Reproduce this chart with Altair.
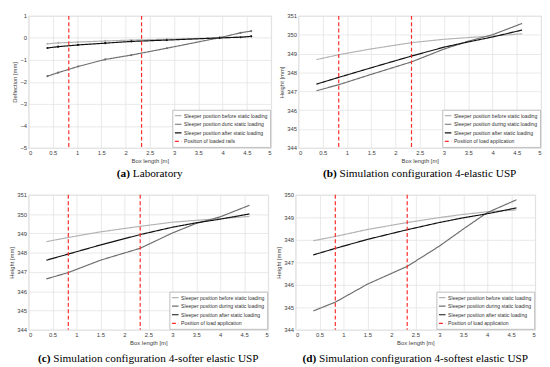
import altair as alt
import pandas as pd

# ---------------- data ----------------
x_lab = [0.39, 0.61, 1.02, 1.58, 2.12, 2.85, 3.94, 4.37, 4.59]
a_before = [-0.27, -0.23, -0.19, -0.14, -0.10, -0.06, 0.00, 0.04, 0.07]
a_during = [-1.74, -1.58, -1.30, -0.98, -0.78, -0.47, 0.01, 0.23, 0.31]
a_after = [-0.46, -0.40, -0.32, -0.24, -0.16, -0.10, 0.00, 0.03, 0.07]

x_sim = [0.37, 0.83, 1.5, 2.33, 3.0, 3.5, 4.0, 4.61]
b_before = [348.68, 348.94, 349.25, 349.58, 349.76, 349.85, 349.93, 350.05]
b_during = [347.03, 347.35, 347.90, 348.56, 349.24, 349.66, 350.00, 350.60]
b_after = [347.38, 347.74, 348.25, 348.87, 349.34, 349.62, 349.88, 350.25]

c_before = [348.57, 348.79, 349.08, 349.37, 349.58, 349.68, 349.77, 349.88]
c_during = [346.64, 346.97, 347.61, 348.23, 349.02, 349.52, 349.86, 350.46]
c_after = [347.61, 347.93, 348.40, 348.94, 349.32, 349.55, 349.74, 350.01]

d_before = [347.96, 348.15, 348.46, 348.77, 348.99, 349.13, 349.25, 349.33]
d_during = [344.84, 345.23, 346.03, 346.82, 347.72, 348.48, 349.21, 349.78]
d_after = [347.33, 347.62, 348.02, 348.45, 348.77, 348.98, 349.16, 349.42]

load_x = [0.83, 2.33]

labels_a = ["Sleeper position before static loading",
            "Sleeper position duric static loading",
            "Sleeper position after static loading",
            "Position of loaded rails"]
labels_sim = ["Sleeper position before static loading",
              "Sleeper position during static loading",
              "Sleeper position after static loading",
              "Position of load application"]

x_ticks = [0.0, 0.5, 1.0, 1.5, 2.0, 2.5, 3.0, 3.5, 4.0, 4.5, 5.0]

captions = [("(a)", "Laboratory"),
            ("(b)", "Simulation configuration 4-elastic USP"),
            ("(c)", "Simulation configuration 4-softer elastic USP"),
            ("(d)", "Simulation configuration 4-softest elastic USP")]

# ---------------- layout helpers ----------------
CAP_SIZE = 11.5
REG = {'S': 556, 'i': 278, 'm': 778, 'u': 500, 'l': 278, 'a': 444, 't': 278,
       'o': 500, 'n': 500, ' ': 250, 'c': 444, 'f': 333, 'g': 500, 'r': 333,
       '4': 500, '-': 333, 'e': 444, 's': 389, 'U': 722, 'P': 556, 'L': 611,
       'b': 500, 'y': 500}
BOLD = {'(': 333, ')': 333, 'a': 500, 'b': 556, 'c': 444, 'd': 556}


def text_w(s, table):
    return sum(table.get(ch, 500) for ch in s) * CAP_SIZE / 1000.0


def panel(x, before, during, after, labels, ydom, ytitle, cap, markers,
          W, H, cap_off):
    rows = []
    for lab, ys in zip(labels[:3], [before, during, after]):
        for xv, yv in zip(x, ys):
            rows.append({"x": xv, "y": yv, "s": lab})
    df = pd.DataFrame(rows)
    dfr = pd.DataFrame({"x": load_x, "s": [labels[3]] * len(load_x)})

    legend = alt.Legend(title=None, orient="bottom-right", offset=1,
                        fillColor="white", strokeColor="#bdbdbd", padding=2,
                        labelFontSize=5.2, labelFont="Liberation Sans",
                        labelColor="#303030", symbolType="stroke",
                        symbolSize=45, rowPadding=0.8, labelLimit=300,
                        labelOffset=2)
    color = alt.Color("s:N", scale=alt.Scale(domain=labels,
                      range=["#b3b3b3", "#6f6f6f", "#111111", "#ff2a2a"]),
                      legend=legend)
    dash = alt.StrokeDash("s:N", scale=alt.Scale(domain=labels,
                          range=[[1, 0], [1, 0], [1, 0], [4, 2.5]]),
                          legend=legend)
    sw = alt.StrokeWidth("s:N", scale=alt.Scale(domain=labels,
                         range=[1.2, 1.2, 2.0, 1.3]), legend=legend)

    xaxis = alt.Axis(values=x_ticks, format="~g", title="Box length [m]",
                     labelOverlap=False, grid=True, tickCount=11)
    xenc = alt.X("x:Q", scale=alt.Scale(domain=[0, 5], nice=False), axis=xaxis)
    yticks = list(range(ydom[0], ydom[1] + 1))
    yenc = alt.Y("y:Q", scale=alt.Scale(domain=list(ydom), nice=False),
                 axis=alt.Axis(values=yticks, format="d", title=ytitle,
                               labelOverlap=False, grid=True))

    if markers:
        line_mark = alt.Chart(df).mark_line(
            point=alt.OverlayMarkDef(size=5, filled=True, opacity=1))
    else:
        line_mark = alt.Chart(df).mark_line()
    lines = line_mark.encode(x=xenc, y=yenc, color=color,
                             strokeDash=dash, strokeWidth=sw)
    rules = alt.Chart(dfr).mark_rule().encode(
        x=xenc, color=color, strokeDash=dash, strokeWidth=sw)

    bold, rest = cap
    wb = text_w(bold, BOLD)
    wr = text_w(" " + rest, REG)
    x0 = W / 2 - (wb + wr) / 2 + wb
    capdf = pd.DataFrame({"b": [bold], "r": [rest]})
    cap_b = alt.Chart(capdf).mark_text(
        align="right", baseline="middle", font="Liberation Serif",
        fontSize=CAP_SIZE, fontWeight="bold", color="black").encode(
        text="b:N", x=alt.value(x0), y=alt.value(H + cap_off))
    cap_r = alt.Chart(capdf).mark_text(
        align="left", baseline="middle", font="Liberation Serif",
        fontSize=CAP_SIZE, color="black").encode(
        text="r:N", x=alt.value(x0 + CAP_SIZE * 0.25), y=alt.value(H + cap_off))

    return alt.layer(lines, rules, cap_b, cap_r).properties(width=W, height=H)


pa = panel(x_lab, a_before, a_during, a_after, labels_a, (-5, 1),
           "Deflection [mm]", captions[0], True, 248, 135, 27)
pb = panel(x_sim, b_before, b_during, b_after, labels_sim, (344, 351),
           "Height [mm]", captions[1], False, 248, 135, 27)
pc = panel(x_sim, c_before, c_during, c_after, labels_sim, (344, 351),
           "Height [mm]", captions[2], False, 245, 138, 30)
pd_ = panel(x_sim, d_before, d_during, d_after, labels_sim, (344, 350),
            "Height [mm]", captions[3], False, 245, 138, 30)

ind = dict(color="independent", strokeDash="independent",
           strokeWidth="independent")

row1 = alt.hconcat(pa, pb, spacing=6).resolve_scale(**ind).resolve_legend(**ind)
row2 = alt.hconcat(pc, pd_, spacing=6).resolve_scale(**ind).resolve_legend(**ind)

chart = alt.vconcat(row1, row2, spacing=11).resolve_scale(**ind).resolve_legend(**ind).properties(
    padding={"left": 0, "top": 0, "right": 0, "bottom": 0},
    background="white",
).configure_axis(
    labelFontSize=6, titleFontSize=6, labelFont="Liberation Sans",
    titleFont="Liberation Sans", labelColor="#404040", titleColor="#404040",
    titleFontWeight="normal", domain=False, ticks=False, gridColor="#e3e3e3",
    gridWidth=0.8, labelPadding=2, titlePadding=2, minExtent=0,
).configure_axisY(minExtent=0).configure_axisX(minExtent=0).configure_view(
    stroke="#d6d6d6", strokeWidth=0.8)

chart.save("out.html", embed_options={"renderer": "svg", "actions": False})
